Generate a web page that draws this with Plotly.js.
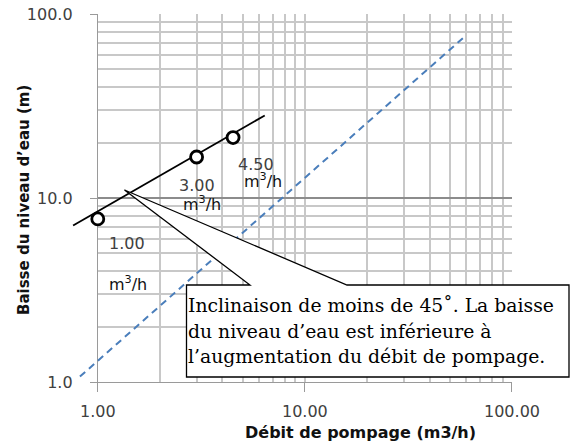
<!DOCTYPE html>
<html>
<head>
<meta charset="utf-8">
<script src="https://cdn.plot.ly/plotly-3.0.0.min.js"></script>
<style>
  html, body { margin: 0; padding: 0; background: #fff; }
  #chart { width: 572px; height: 447px; }
</style>
</head>
<body>
<div id="chart"></div>
<script>
// Pumping test: water-level drawdown against pumping rate (log-log)
const flowRate   = [1.0, 3.0, 4.5];          // m3/h
const waterDrop  = [7.7, 16.7, 21.3];        // m
const rateLabels = ['1.00', '3.00', '4.50'];
const unitLabel  = 'm<sup>3</sup>/h';

// power-law trend through the measurements
const trendFlow = [0.76, 6.4];
const trendDrop = [7.08, 28.1];

// 45 degree reference line (drawdown proportional to rate)
const refFlow = [0.82, 58];
const refDrop = [1.07, 74];

const xTickVals = [1, 10, 100];
const xTickText = ['1.00', '10.00', '100.00'];
const yTickVals = [1, 10, 100];
const yTickText = ['1.0', '10.0', '100.0'];
const minorVals = [2, 3, 4, 5, 6, 7, 8, 9, 20, 30, 40, 50, 60, 70, 80, 90];

const xTitle = 'Débit de pompage (m3/h)';
const yTitle = 'Baisse du niveau d’eau (m)';
const calloutLines = [
  'Inclinaison de moins de 45˚. La baisse',
  'du niveau d’eau est inférieure à',
  'l’augmentation du débit de pompage.'
];

// layout geometry
const W = 572, H = 447;
const M = { l: 60, r: 60, t: 14, b: 65 };
const mainLeft = 0.0836;                          // where the visible x axis starts
const x2Low = -2 * mainLeft / (1 - mainLeft);     // same scale, a bit wider to the left
const px = v => (v - M.l) / (W - M.l - M.r);
const py = v => (H - M.b - v) / (H - M.t - M.b);

// label offsets (pixels) relative to each point
const numShift  = [[29, -25], [0, -28], [23, -27]];
const unitShift = [[30, -65], [5, -46], [30, -43]];

const tickFont = { family: 'DejaVu Sans', size: 16, color: '#404040' };
const lightGrid = '#c8c8c8';
const darkGrid = '#8c8c8c';
const axisGray = '#9a9a9a';

const traces = [
  // carries the visible axes and grid
  {
    x: flowRate, y: waterDrop, xaxis: 'x', yaxis: 'y',
    mode: 'markers', hoverinfo: 'skip', marker: { opacity: 0 }
  },
  {
    x: refFlow, y: refDrop, xaxis: 'x2', yaxis: 'y2',
    mode: 'lines', cliponaxis: false, hoverinfo: 'skip',
    line: { color: '#4a7ebb', width: 2, dash: '7px,5px' }
  },
  {
    x: trendFlow, y: trendDrop, xaxis: 'x2', yaxis: 'y2',
    mode: 'lines', cliponaxis: false, hoverinfo: 'skip',
    line: { color: '#000000', width: 1.8 }
  },
  {
    x: flowRate, y: waterDrop, xaxis: 'x2', yaxis: 'y2',
    mode: 'markers', cliponaxis: false,
    marker: { symbol: 'circle', size: 12, color: '#ffffff',
              line: { color: '#000000', width: 2.8 } }
  }
];

const annotations = [];
flowRate.forEach((f, i) => {
  annotations.push({
    xref: 'x2', yref: 'y2', x: Math.log10(f), y: Math.log10(waterDrop[i]),
    text: rateLabels[i], showarrow: false,
    xanchor: 'center', yanchor: 'middle',
    xshift: numShift[i][0], yshift: numShift[i][1],
    font: { family: 'DejaVu Sans', size: 16, color: '#404040' }
  });
  annotations.push({
    xref: 'x2', yref: 'y2', x: Math.log10(f), y: Math.log10(waterDrop[i]),
    text: unitLabel, showarrow: false,
    xanchor: 'center', yanchor: 'middle',
    xshift: unitShift[i][0], yshift: unitShift[i][1],
    font: { family: 'DejaVu Sans', size: 16, color: '#111111' }
  });
});

// axis titles
annotations.push({
  xref: 'paper', yref: 'paper', x: px(360), y: py(432),
  xanchor: 'center', yanchor: 'middle',
  text: '<b>' + xTitle + '</b>', showarrow: false,
  font: { family: 'DejaVu Sans', size: 16, color: '#111111' }
});
annotations.push({
  xref: 'paper', yref: 'paper', x: px(24), y: py(200),
  xanchor: 'center', yanchor: 'middle',
  text: '<b>' + yTitle + '</b>', showarrow: false, textangle: -90,
  font: { family: 'DejaVu Sans', size: 15, color: '#111111' }
});

// callout text
const lineCenters = [305.5, 331, 356];
calloutLines.forEach((t, i) => {
  annotations.push({
    xref: 'paper', yref: 'paper', x: px(186), y: py(lineCenters[i]),
    xanchor: 'left', yanchor: 'middle', align: 'left',
    text: t, showarrow: false,
    font: { family: 'DejaVu Serif', size: 18.8, color: '#000000' }
  });
});

// callout box with its pointer
const boxL = px(186.5), boxR = px(569), boxT = py(285), boxB = py(377);
const wedgeA = px(250), wedgeB = px(347), tipX = px(124.5), tipY = py(190);
const calloutPath =
  `M${boxL},${boxT} L${wedgeA},${boxT} L${tipX},${tipY} L${wedgeB},${boxT} ` +
  `L${boxR},${boxT} L${boxR},${boxB} L${boxL},${boxB} Z`;

const hiddenAxis = { visible: false, showgrid: false, zeroline: false, fixedrange: true };

const layout = {
  width: W, height: H,
  margin: M,
  paper_bgcolor: '#ffffff', plot_bgcolor: 'rgba(0,0,0,0)',
  showlegend: false,
  xaxis: {
    type: 'log', range: [0, 2], domain: [mainLeft, 1], anchor: 'y',
    tickmode: 'array', tickvals: xTickVals, ticktext: xTickText,
    ticks: 'outside', ticklen: 9, tickwidth: 1, tickcolor: axisGray,
    ticklabelstandoff: 6,
    showline: true, linecolor: axisGray, linewidth: 1,
    showgrid: true, gridcolor: lightGrid, gridwidth: 2,
    minor: { tickmode: 'array', tickvals: minorVals, ticks: '',
             showgrid: true, gridcolor: lightGrid, gridwidth: 2 },
    zeroline: false, tickfont: tickFont, fixedrange: true
  },
  yaxis: {
    type: 'log', range: [0, 2], anchor: 'x',
    tickmode: 'array', tickvals: yTickVals, ticktext: yTickText,
    ticks: 'outside', ticklen: 7, tickwidth: 1, tickcolor: axisGray,
    ticklabelstandoff: 14,
    showline: true, linecolor: axisGray, linewidth: 1,
    showgrid: true, gridcolor: darkGrid, gridwidth: 2,
    minor: { tickmode: 'array', tickvals: minorVals, ticks: '',
             showgrid: true, gridcolor: lightGrid, gridwidth: 2 },
    zeroline: false, tickfont: tickFont, fixedrange: true
  },
  xaxis2: Object.assign({ type: 'log', range: [x2Low, 2], domain: [0, 1], anchor: 'y2' }, hiddenAxis),
  yaxis2: Object.assign({ type: 'log', range: [0, 2], overlaying: 'y', anchor: 'x2' }, hiddenAxis),
  shapes: [{
    type: 'path', xref: 'paper', yref: 'paper', path: calloutPath,
    fillcolor: '#ffffff', line: { color: '#000000', width: 1.3 }, layer: 'above'
  }],
  annotations: annotations
};

Plotly.newPlot('chart', traces, layout, { staticPlot: true, displayModeBar: false });
</script>
</body>
</html>
